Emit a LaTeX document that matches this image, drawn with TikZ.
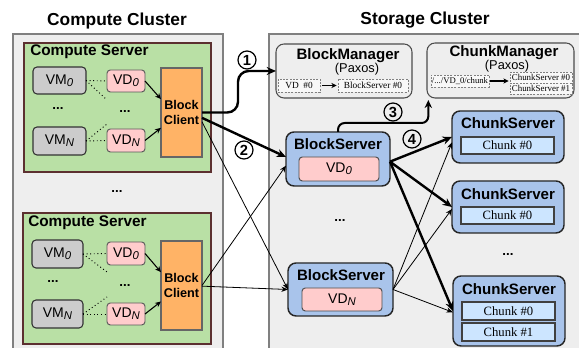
\documentclass[tikz,border=0pt]{standalone}
\usepackage{fontspec}
\setmainfont{Liberation Sans}
\newfontfamily\tms{Liberation Serif}
\usetikzlibrary{fit,arrows.meta}
\newcommand{\mysub}[1]{\raisebox{-1.3pt}{\fontsize{8.5}{9}\selectfont\itshape #1}}
\definecolor{clbg}{HTML}{EEEEEE}
\definecolor{clborder}{HTML}{808080}
\definecolor{csfill}{HTML}{B9E0A5}
\definecolor{csborder}{HTML}{5C3030}
\definecolor{vmfill}{HTML}{CCCCCC}
\definecolor{vdfill}{HTML}{FFCCCC}
\definecolor{clientfill}{HTML}{FFB366}
\definecolor{bsfill}{HTML}{A9C4EB}
\definecolor{chfill}{HTML}{CCE5FF}
\tikzset{
  box/.style={inner sep=0pt, outer sep=0pt},
  cluster/.style={draw=clborder, fill=clbg, line width=1pt},
  cserver/.style={box, draw=csborder, fill=csfill, line width=0.9pt},
  vmbox/.style={box, draw=black!80, fill=vmfill, rounded corners=3pt, line width=0.8pt},
  vdbox/.style={box, draw=black!65, fill=vdfill, rounded corners=2.5pt, line width=0.7pt},
  client/.style={box, draw=black!60, fill=clientfill, line width=0.8pt},
  mgr/.style={box, draw=black!70, fill=clbg, rounded corners=6pt, line width=0.8pt},
  dbox/.style={box, draw=black!50, dash pattern=on 1.5pt off 1pt, fill=white!60!clbg, line width=0.5pt},
  bserver/.style={box, draw=black!85, fill=bsfill, rounded corners=6pt, line width=1.1pt},
  chunk/.style={box, draw=black!75, fill=chfill, line width=0.8pt},
  vtxt/.style={inner sep=0pt, font=\fontsize{10.5}{12}\selectfont},
  cltxt/.style={inner sep=0pt, align=center, font=\fontsize{9.5}{11.3}\selectfont\bfseries},
  chtxt/.style={inner sep=0pt, font=\tms\fontsize{9.5}{11}\selectfont},
  dtxt/.style={inner sep=0pt, font=\tms\fontsize{7}{8}\selectfont},
  ttl/.style={inner sep=0pt, font=\fontsize{11.3}{13}\selectfont\bfseries},
  bigttl/.style={inner sep=0pt, font=\fontsize{13}{15}\selectfont\bfseries},
  dots/.style={inner sep=0pt, font=\fontsize{10}{12}\selectfont\bfseries},
  num/.style={circle, draw, line width=0.9pt, inner sep=0pt, minimum size=13.5pt, font=\fontsize{11}{12}\selectfont\bfseries},
  thinarr/.style={-{Stealth[length=5pt,width=4pt]}, line width=0.6pt},
  smallarr/.style={-{Stealth[length=4.5pt,width=4pt]}, line width=0.8pt},
  thickarr/.style={-{Stealth[length=7pt,width=6pt]}, line width=1.8pt},
  dotline/.style={dotted, line width=0.7pt}
}
\begin{document}
\begin{tikzpicture}[x=0.75pt,y=-0.75pt]
\useasboundingbox (0,0) rectangle (579,348);
\clip (0,0) rectangle (579,348);
\fill[white] (0,0) rectangle (579,348);

% clusters
\node[bigttl] (cct) at (117,21) {Compute Cluster};
\node[bigttl] (sct) at (425,20) {Storage Cluster};
\draw[cluster] (13,34) rectangle (223,360);
\draw[cluster] (269,34) rectangle (590,360);

% ---------- compute server 1
\node[cserver, fit={(24,43) (211,172)}] (cs1) {};
\node[ttl, font=\fontsize{11.5}{13}\selectfont\bfseries, anchor=west] (cs1t) at (30,52) {Compute Server};
\node[vmbox, fit={(33,67) (86,94)}] (vm0a) {};
\node[vtxt] (vm0al) at (vm0a.center) {VM\mysub{0}};
\node[vmbox, fit={(33,127) (86,155)}] (vmna) {};
\node[vtxt] (vmnal) at (vmna.center) {VM\mysub{N}};
\node[vdbox, fit={(107,70) (145,92)}] (vd0a) {};
\node[vtxt] (vd0al) at (vd0a.center) {VD\mysub{0}};
\node[vdbox, fit={(107,129) (145,152)}] (vdna) {};
\node[vtxt] (vdnal) at (vdna.center) {VD\mysub{N}};
\node[client, fit={(161,68) (202,157)}] (bc1) {};
\node[cltxt] (bc1l) at (bc1.center) {Block\\Client};
\node[dots] (dva) at (58,109) {...};
\node[dots] (dda) at (125,112) {...};
\coordinate (pa1) at (107,100);
\coordinate (pa2) at (107,124);
\draw[dotline] (vm0a.east) -- (vd0a.west);
\draw[dotline] (vm0a.east) -- (pa1);
\draw[dotline] (vmna.east) -- (vdna.west);
\draw[dotline] (vmna.east) -- (pa2);
\draw[smallarr] (vd0a.east) -- ([yshift=10pt]bc1.west);
\draw[smallarr] (vdna.east) -- ([yshift=-11.5pt]bc1.west);

\node[dots] (dmid) at (117,192) {...};

% ---------- compute server 2
\node[cserver, fit={(23,213) (211,344)}] (cs2) {};
\node[ttl, font=\fontsize{11.5}{13}\selectfont\bfseries, anchor=west] (cs2t) at (28,223) {Compute Server};
\node[vmbox, fit={(32,240) (83,268)}] (vm0b) {};
\node[vtxt] (vm0bl) at (vm0b.center) {VM\mysub{0}};
\node[vmbox, fit={(32,300) (83,328)}] (vmnb) {};
\node[vtxt] (vmnbl) at (vmnb.center) {VM\mysub{N}};
\node[vdbox, fit={(107,242) (145,265)}] (vd0b) {};
\node[vtxt] (vd0bl) at (vd0b.center) {VD\mysub{0}};
\node[vdbox, fit={(107,303) (145,325)}] (vdnb) {};
\node[vtxt] (vdnbl) at (vdnb.center) {VD\mysub{N}};
\node[client, fit={(161,241) (202,330)}] (bc2) {};
\node[cltxt] (bc2l) at (bc2.center) {Block\\Client};
\node[dots] (dvb) at (53,282) {...};
\node[dots] (ddb) at (125,286) {...};
\coordinate (pb1) at (107,272);
\coordinate (pb2) at (107,297);
\draw[dotline] (vm0b.east) -- (vd0b.west);
\draw[dotline] (vm0b.east) -- (pb1);
\draw[dotline] (vmnb.east) -- (vdnb.west);
\draw[dotline] (vmnb.east) -- (pb2);
\draw[smallarr] (vd0b.east) -- ([yshift=10pt]bc2.west);
\draw[smallarr] (vdnb.east) -- ([yshift=-12pt]bc2.west);

% ---------- Block manager
\node[mgr, fit={(276,44) (412,98)}] (bm) {};
\node[ttl] (bmt) at (348,56) {BlockManager};
\node[inner sep=0pt, font=\fontsize{9.6}{11}\selectfont] (bmp) at (357,69) {(Paxos)};
\node[dbox, fit={(278,79) (320,92)}] (bmvd) {};
\node[dtxt] (bmvdl) at (bmvd.center) {VD\enspace\#0};
\node[dbox, fit={(338,79) (408,92)}] (bmbs) {};
\node[dtxt] (bmbsl) at (bmbs.center) {BlockServer \#0};
\draw[-{Stealth[length=4pt,width=4pt]}, line width=1.3pt, shorten <=1.5pt, shorten >=1pt] (bmvd) -- (bmbs);

% ---------- Chunk manager
\node[mgr, fit={(427,43) (574,98)}] (cm) {};
\node[ttl] (cmt) at (504,53) {ChunkManager};
\node[inner sep=0pt, font=\fontsize{9.6}{11}\selectfont] (cmp) at (507,66) {(Paxos)};
\node[dbox, fit={(431,75) (489,87)}] (cmvd) {};
\node[dtxt, font=\tms\fontsize{6.5}{7.5}\selectfont] (cmvdl) at (cmvd.center) {/.../VD\_0/chunk};
\node[dbox, fit={(510,72) (572,83)}] (cmc0) {};
\node[dtxt, font=\tms\fontsize{6.7}{7.5}\selectfont] (cmc0l) at (cmc0.center) {ChunkServer \#0};
\node[dbox, fit={(510,83) (572,94)}] (cmc1) {};
\node[dtxt, font=\tms\fontsize{6.7}{7.5}\selectfont] (cmc1l) at (cmc1.center) {ChunkServer \#1};
\draw[-{Stealth[length=4pt,width=4pt]}, line width=1.3pt, shorten <=1pt, shorten >=1pt] (cmvd.east) -- (cmvd.east -| cmc0.west);

% ---------- Block servers
\node[bserver, fit={(286,132) (390,186)}] (bs0) {};
\node[ttl] (bs0t) at (338,144) {BlockServer};
\node[vdbox, draw=black!70, fit={(299,157) (379,181)}] (bs0vd) {};
\node[vtxt] (bs0vdl) at (bs0vd.center) {VD\mysub{0}};
\node[bserver, fit={(288,263) (393,316)}] (bsn) {};
\node[ttl] (bsnt) at (341,275) {BlockServer};
\node[vdbox, draw=black!70, fit={(302,288) (382,311)}] (bsnvd) {};
\node[vtxt] (bsnvdl) at (bsnvd.center) {VD\mysub{N}};
\node[dots] (dbs) at (340,221) {...};

% ---------- Chunk servers
\node[bserver, fit={(452,111) (564,163)}] (ch1) {};
\node[ttl] (ch1t) at (508,123) {ChunkServer};
\node[chunk, fit={(461,137) (554,154)}] (ch1a) {};
\node[chtxt] (ch1al) at (ch1a.center) {Chunk \#0};
\node[bserver, fit={(452,181) (564,233)}] (ch2) {};
\node[ttl] (ch2t) at (508,194) {ChunkServer};
\node[chunk, fit={(461,207) (554,224)}] (ch2a) {};
\node[chtxt] (ch2al) at (ch2a.center) {Chunk \#0};
\node[dots] (dch) at (508,255) {...};
\node[bserver, fit={(453,276) (565,346)}] (ch3) {};
\node[ttl] (ch3t) at (509,289) {ChunkServer};
\node[chunk, fit={(462,302) (555,320)}] (ch3a) {};
\node[chtxt] (ch3al) at (ch3a.center) {Chunk \#0};
\node[chunk, fit={(462,323) (555,341)}] (ch3b) {};
\node[chtxt] (ch3bl) at (ch3b.center) {Chunk \#1};

% ---------- connectors
\draw[thickarr, rounded corners=8pt] (bc1.east) -- ++(36,0) |- (bm.west);
\node[num] (n1) at (247,60) {1};
\draw[thickarr] ([yshift=-4pt]bc1.east) -- ([yshift=1.5pt]bs0.west);
\node[num] (n2) at (244,150) {2};
\draw[thinarr] ([yshift=-7pt]bc1.east) -- (bsn.west);
\draw[thinarr] (bc2.east) -- ([yshift=-5pt]bs0.west);
\draw[thinarr] ([yshift=-0.5pt]bc2.east) -- (bsn.west);

\coordinate (cmtip) at ([xshift=1pt,yshift=-1.5pt]cm.south west);
\draw[-{Stealth[length=6pt,width=5.5pt]}, line width=1.5pt, rounded corners=5pt] (bs0.north) -- ++(0,-9) -| (cmtip);
\node[num] (n3) at (393,112) {3};

\draw[thickarr] ([yshift=-2pt]bs0.east) -- (ch1.west);
\draw[thickarr] ([yshift=-2pt]bs0.east) -- (ch2.west);
\draw[thickarr] ([yshift=-2pt]bs0.east) -- (ch3.west);
\node[num] (n4) at (412,139) {4};

\draw[thinarr] (bsn.east) -- ([yshift=-4pt]ch1.west);
\draw[thinarr] (bsn.east) -- ([yshift=-1.5pt]ch2.west);
\draw[thinarr] (bsn.east) -- ([yshift=-1pt]ch3.west);
\end{tikzpicture}
\end{document}
